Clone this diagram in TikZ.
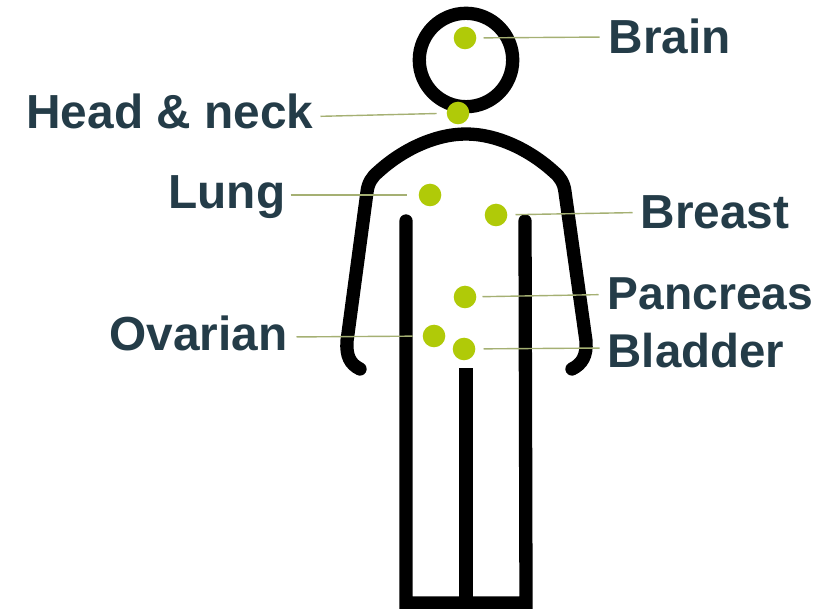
\documentclass[tikz,border=0pt]{standalone}
\usepackage{fontspec}
\setmainfont{Liberation Sans}
\definecolor{bodyblack}{RGB}{0,0,0}
\definecolor{dotgreen}{RGB}{176,202,8}
\definecolor{leaderolive}{RGB}{165,176,115}
\definecolor{labelslate}{RGB}{36,60,72}
\tikzset{
  bodyline/.style={draw=bodyblack,line width=13.3pt,line cap=round},
  legline/.style={draw=bodyblack,line width=13.3pt,line cap=round,line join=miter},
  site/.style={circle,fill=dotgreen,inner sep=0pt,minimum size=22.6pt},
  organ/.style={inner sep=0pt,text=labelslate,text height=33pt,text depth=0pt,
                font=\fontsize{47.8}{47.8}\selectfont\bfseries},
  leader/.style={draw=leaderolive,line width=1.4pt},
}
\begin{document}
\begin{tikzpicture}[x=1pt,y=-1pt]
  \useasboundingbox (0,0) rectangle (830,609);
  % figure
  \draw[bodyline] (466,60) circle (46.7);
  \draw[bodyline] (360,369) .. controls (350,364) and (346,356) .. (347,341) -- (367,192)
    .. controls (368,183) and (372,177) .. (378,172) .. controls (402,150) and (435,134) .. (466,134)
    .. controls (497,134) and (530,150) .. (554,172) .. controls (560,177) and (564,183) .. (565,192)
    -- (586,341) .. controls (587,356) and (582,364) .. (572,369);
  \draw[legline] (406,221) -- (406,603) -- (526,603) -- (525,221);
  \draw[legline,line cap=butt] (466,368.5) -- (466,603);
  % sites
  \node[site] (dotBrain) at (465,38) {};
  \node[site] (dotHead) at (458,113) {};
  \node[site] (dotLung) at (430,195) {};
  \node[site] (dotBreast) at (496,215) {};
  \node[site] (dotPancreas) at (465,297) {};
  \node[site] (dotOvarian) at (434,336) {};
  \node[site] (dotBladder) at (464,349) {};
  % labels
  \node[organ,anchor=west] (lblBrain) at (608.5,37) {Brain};
  \node[organ,anchor=east] (lblHead) at (313.5,112.5) {Head \& neck};
  \node[organ,anchor=east] (lblLung) at (285.5,192) {Lung};
  \node[organ,anchor=west] (lblBreast) at (640.5,212.5) {Breast};
  \node[organ,anchor=west,font=\fontsize{46.2}{46.2}\selectfont\bfseries] (lblPancreas) at (607.5,293) {Pancreas};
  \node[organ,anchor=east] (lblOvarian) at (287.5,334.5) {Ovarian};
  \node[organ,anchor=west,font=\fontsize{47.4}{47.4}\selectfont\bfseries] (lblBladder) at (607.5,351) {Bladder};
  % leaders
  \draw[leader,shorten <=9pt,shorten >=7pt] (lblBrain.west) -- (dotBrain);
  \draw[leader,shorten <=7pt,shorten >=10pt] ([yshift=-4pt]lblHead.east) -- (dotHead);
  \draw[leader,shorten <=5pt,shorten >=12pt] ([yshift=-3pt]lblLung.east) -- (dotLung);
  \draw[leader,shorten <=8pt,shorten >=8pt] (lblBreast.west) -- (dotBreast);
  \draw[leader,shorten <=9pt,shorten >=6pt] ([yshift=-1.5pt]lblPancreas.west) -- (dotPancreas);
  \draw[leader,shorten <=9pt,shorten >=10pt] ([yshift=-2.5pt]lblOvarian.east) -- (dotOvarian);
  \draw[leader,shorten <=8pt,shorten >=8pt] ([yshift=3pt]lblBladder.west) -- (dotBladder);
\end{tikzpicture}
\end{document}
